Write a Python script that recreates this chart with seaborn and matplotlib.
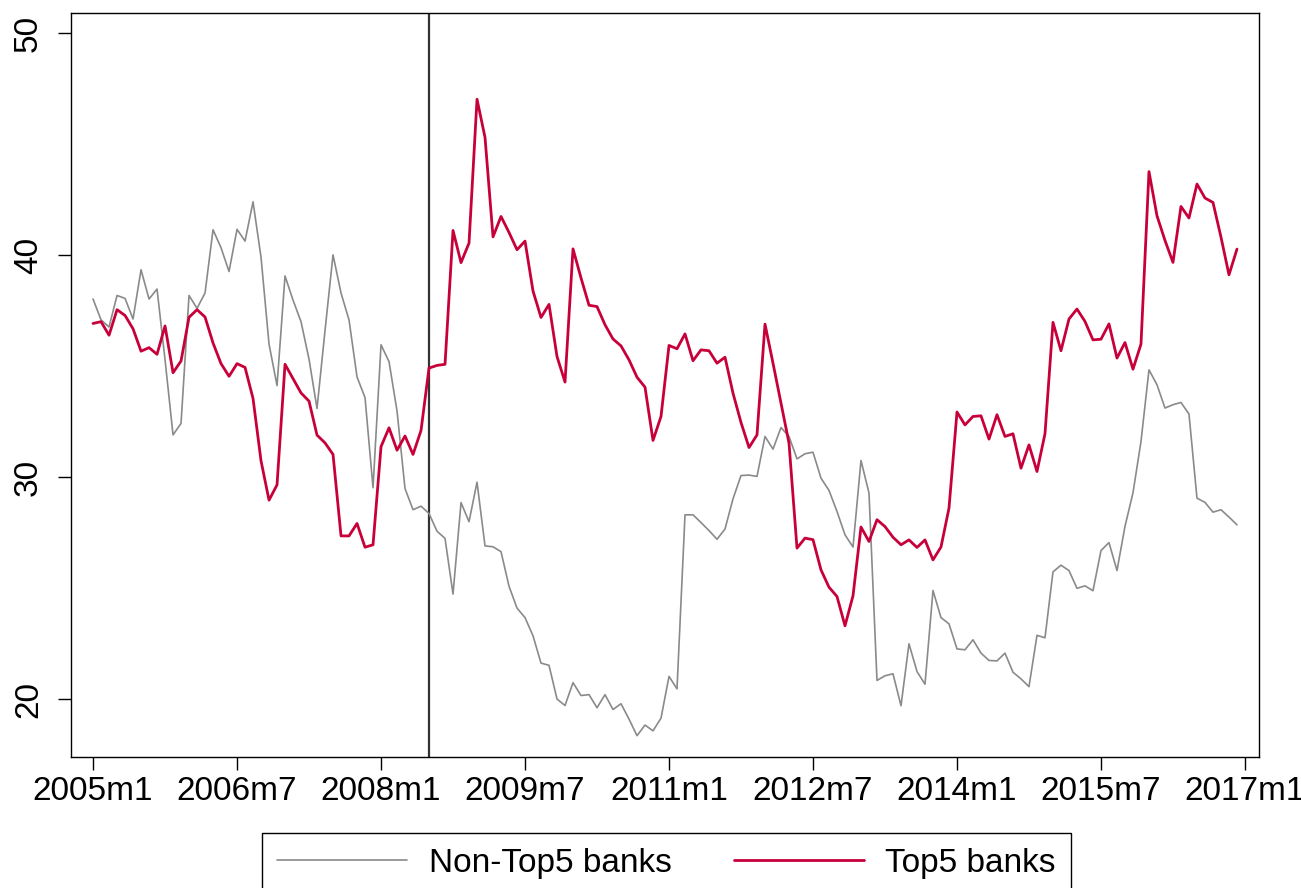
import matplotlib
matplotlib.use("Agg")
import matplotlib.pyplot as plt
import numpy as np
import pandas as pd
import seaborn as sns

# monthly series, 2005m1 .. 2016m12
start_year = 2005
top5 = [
    36.93, 37.01, 36.40, 37.55, 37.29, 36.69, 35.68, 35.84, 35.54, 36.82,
    34.71, 35.24, 37.21, 37.55, 37.22, 36.05, 35.12, 34.55, 35.12, 34.95,
    33.55, 30.74, 28.97, 29.66, 35.09, 34.44, 33.80, 33.43, 31.90, 31.55,
    31.03, 27.36, 27.36, 27.92, 26.85, 26.96, 31.38, 32.23, 31.22, 31.86,
    31.03, 32.11, 34.92, 35.04, 35.09, 41.12, 39.67, 40.55, 47.03, 45.31,
    40.83, 41.75, 41.03, 40.25, 40.64, 38.39, 37.20, 37.79, 35.44, 34.29,
    40.29, 38.98, 37.75, 37.69, 36.87, 36.23, 35.92, 35.29, 34.51, 34.06,
    31.66, 32.74, 35.94, 35.79, 36.46, 35.25, 35.74, 35.70, 35.14, 35.41,
    33.79, 32.47, 31.34, 31.91, 36.90, 35.14, 33.34, 31.54, 26.81, 27.26,
    27.19, 25.83, 25.05, 24.63, 23.31, 24.66, 27.76, 27.11, 28.09, 27.78,
    27.30, 26.96, 27.18, 26.84, 27.18, 26.28, 26.86, 28.61, 32.94, 32.36,
    32.74, 32.77, 31.72, 32.82, 31.84, 31.96, 30.41, 31.46, 30.26, 31.96,
    36.98, 35.70, 37.13, 37.58, 37.02, 36.19, 36.22, 36.91, 35.37, 36.07,
    34.87, 36.00, 43.77, 41.78, 40.67, 39.68, 42.20, 41.68, 43.21, 42.58,
    42.38, 40.82, 39.12, 40.28,
]
non_top5 = [
    38.03, 37.09, 36.77, 38.19, 38.06, 37.13, 39.35, 38.03, 38.48, 35.30,
    31.91, 32.43, 38.19, 37.61, 38.30, 41.15, 40.34, 39.27, 41.17, 40.64,
    42.41, 39.91, 36.00, 34.13, 39.07, 37.98, 37.01, 35.32, 33.10, 36.61,
    40.02, 38.30, 37.09, 34.52, 33.59, 29.53, 35.97, 35.21, 32.99, 29.49,
    28.54, 28.70, 28.37, 27.57, 27.25, 24.74, 28.86, 28.00, 29.78, 26.91,
    26.87, 26.65, 25.09, 24.11, 23.68, 22.86, 21.63, 21.53, 20.01, 19.72,
    20.75, 20.17, 20.21, 19.62, 20.21, 19.54, 19.80, 19.11, 18.36, 18.84,
    18.58, 19.15, 21.03, 20.47, 28.31, 28.31, 27.96, 27.60, 27.21, 27.67,
    29.03, 30.08, 30.10, 30.04, 31.84, 31.27, 32.24, 31.84, 30.83, 31.06,
    31.13, 29.96, 29.41, 28.46, 27.41, 26.86, 30.76, 29.29, 20.85, 21.06,
    21.15, 19.71, 22.50, 21.25, 20.68, 24.90, 23.68, 23.40, 22.27, 22.23,
    22.68, 22.08, 21.75, 21.73, 22.08, 21.22, 20.92, 20.57, 22.88, 22.77,
    25.74, 26.04, 25.80, 25.00, 25.11, 24.89, 26.70, 27.06, 25.80, 27.79,
    29.30, 31.61, 34.84, 34.17, 33.12, 33.27, 33.37, 32.85, 29.06, 28.87,
    28.43, 28.54, 28.21, 27.86,
]
tick_labels = ["2005m1", "2006m7", "2008m1", "2009m7", "2011m1",
               "2012m7", "2014m1", "2015m7", "2017m1"]
y_ticks = [20, 30, 40, 50]
event_month = "2008m7"


def month_index(label):
    y, m = label.split("m")
    return (int(y) - start_year) * 12 + int(m) - 1


df = pd.DataFrame({"month": np.arange(len(top5)), "top5": top5, "non_top5": non_top5})

sns.set_style("white")
plt.rcParams["font.family"] = ["Liberation Sans", "DejaVu Sans"]
plt.rcParams.update({"text.color": "black", "xtick.color": "black",
                     "ytick.color": "black", "axes.labelcolor": "black"})

fig = plt.figure(figsize=(13.01, 8.88), dpi=100)
ax = fig.add_axes([0.0546, 0.1475, 0.9131, 0.8375])

sns.lineplot(data=df, x="month", y="non_top5", color="#8a8a8a", linewidth=1.2,
             ax=ax, label="Non-Top5 banks")
sns.lineplot(data=df, x="month", y="top5", color="#c8003a", linewidth=2.0,
             ax=ax, label="Top5 banks")
ax.axvline(month_index(event_month), color="#333333", linewidth=1.6, zorder=1)

ax.set_xlim(-2.75, 145.75)
ax.set_ylim(17.4, 50.9)
ax.set_xticks([month_index(t) for t in tick_labels])
ax.set_xticklabels(tick_labels, fontsize=24)
ax.set_yticks(y_ticks)
ax.set_yticklabels([str(v) for v in y_ticks], fontsize=24, rotation=90, va="center")
ax.set_xlabel("")
ax.set_ylabel("")
ax.tick_params(axis="both", direction="out", length=9.5, width=1.0, color="black",
               labelcolor="black", bottom=True, left=True)
ax.tick_params(axis="x", pad=4)
ax.tick_params(axis="y", pad=10)
for s in ax.spines.values():
    s.set_visible(True)
    s.set_color("black")
    s.set_linewidth(1.0)
ax.grid(False)

handles, labels = ax.get_legend_handles_labels()
ax.get_legend().remove()
leg = fig.legend(handles, labels, loc="upper center", bbox_to_anchor=(0.5123, 1 - 833 / 888),
                 ncol=2, fontsize=24, frameon=True, fancybox=False, framealpha=1,
                 edgecolor="black", handlelength=3.9, handletextpad=0.65,
                 columnspacing=1.85, borderpad=0.45, borderaxespad=0)
leg.get_frame().set_linewidth(1.0)
for t in leg.get_texts():
    t.set_color("black")

fig.savefig("out.png", dpi=100)
